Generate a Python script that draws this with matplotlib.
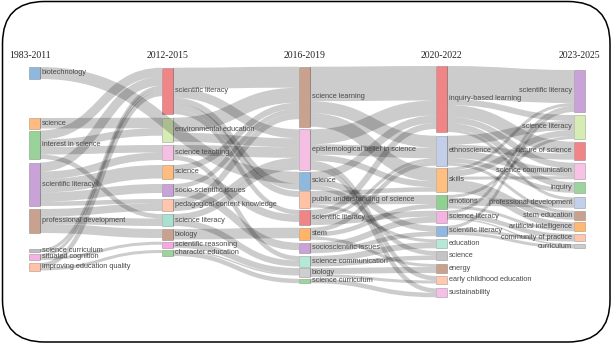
import matplotlib
matplotlib.use('Agg')
import matplotlib.pyplot as plt
from matplotlib.path import Path
from matplotlib.patches import PathPatch, Rectangle, FancyBboxPatch

# keyword clusters per period
periods = ['1983-2011', '2012-2015', '2016-2019', '2020-2022', '2023-2025']

col0 = ['biotechnology', 'science', 'interest in science', 'scientific literacy',
        'professional development', 'science curriculum', 'situated cognition',
        'improving education quality']
col1 = ['scientific literacy', 'environmental education', 'science teaching', 'science',
        'socio-scientific issues', 'pedagogical content knowledge', 'science literacy',
        'biology', 'scientific reasoning', 'character education']
col2 = ['science learning', 'epistemological belief in science', 'science',
        'public understanding of science', 'scientific literacy', 'stem',
        'socioscientific issues', 'science communication', 'biology', 'science curriculum']
col3 = ['inquiry-based learning', 'ethnoscience', 'skills', 'emotions', 'science literacy',
        'scientific literacy', 'education', 'science', 'energy',
        'early childhood education', 'sustainability']
col4 = ['scientific literacy', 'science literacy', 'nature of science', 'science communication',
        'inquiry', 'professional development', 'stem education', 'artificial intelligence',
        'community of practice', 'curriculum']
columns = [col0, col1, col2, col3, col4]

# flows between periods: (src period, src keyword, tgt period, tgt keyword, weight)
links = [
    (0, 'biotechnology', 2, 'science', 8),
    (0, 'science', 1, 'environmental education', 7),
    (0, 'interest in science', 1, 'scientific literacy', 6),
    (0, 'interest in science', 1, 'environmental education', 5),
    (0, 'interest in science', 1, 'science teaching', 5),
    (0, 'interest in science', 1, 'science literacy', 3),
    (0, 'scientific literacy', 1, 'scientific literacy', 6),
    (0, 'scientific literacy', 1, 'science teaching', 5),
    (0, 'scientific literacy', 1, 'science', 9),
    (0, 'scientific literacy', 1, 'socio-scientific issues', 6),
    (0, 'scientific literacy', 1, 'pedagogical content knowledge', 3),
    (0, 'professional development', 1, 'pedagogical content knowledge', 5),
    (0, 'professional development', 1, 'science literacy', 5),
    (0, 'professional development', 1, 'biology', 6),
    (0, 'science curriculum', 1, 'scientific literacy', 2),
    (0, 'situated cognition', 1, 'scientific literacy', 2),
    (0, 'situated cognition', 1, 'scientific reasoning', 2),
    (0, 'improving education quality', 1, 'scientific literacy', 3),
    (0, 'improving education quality', 1, 'character education', 2),

    (1, 'scientific literacy', 2, 'science learning', 14),
    (1, 'scientific literacy', 2, 'epistemological belief in science', 6),
    (1, 'scientific literacy', 2, 'science', 4),
    (1, 'scientific literacy', 2, 'public understanding of science', 4),
    (1, 'scientific literacy', 2, 'scientific literacy', 3),
    (1, 'environmental education', 2, 'science learning', 10),
    (1, 'environmental education', 2, 'epistemological belief in science', 6),
    (1, 'science teaching', 2, 'epistemological belief in science', 7),
    (1, 'science teaching', 2, 'science communication', 3),
    (1, 'science', 2, 'science learning', 4),
    (1, 'science', 2, 'scientific literacy', 5),
    (1, 'socio-scientific issues', 2, 'socioscientific issues', 5),
    (1, 'socio-scientific issues', 2, 'science learning', 3),
    (1, 'pedagogical content knowledge', 2, 'science learning', 4),
    (1, 'pedagogical content knowledge', 2, 'epistemological belief in science', 4),
    (1, 'science literacy', 2, 'epistemological belief in science', 4),
    (1, 'science literacy', 2, 'science communication', 4),
    (1, 'biology', 2, 'stem', 7),
    (1, 'scientific reasoning', 2, 'biology', 4),
    (1, 'character education', 2, 'science curriculum', 3),
    (1, 'character education', 2, 'biology', 1),

    (2, 'science learning', 3, 'inquiry-based learning', 23),
    (2, 'science learning', 3, 'ethnoscience', 8),
    (2, 'science learning', 3, 'skills', 9),
    (2, 'epistemological belief in science', 3, 'inquiry-based learning', 10),
    (2, 'epistemological belief in science', 3, 'ethnoscience', 7),
    (2, 'epistemological belief in science', 3, 'skills', 4),
    (2, 'epistemological belief in science', 3, 'early childhood education', 3),
    (2, 'epistemological belief in science', 3, 'sustainability', 3),
    (2, 'science', 3, 'inquiry-based learning', 5),
    (2, 'science', 3, 'scientific literacy', 4),
    (2, 'science', 3, 'science', 3),
    (2, 'public understanding of science', 3, 'emotions', 6),
    (2, 'public understanding of science', 3, 'skills', 3),
    (2, 'public understanding of science', 3, 'education', 2),
    (2, 'scientific literacy', 3, 'inquiry-based learning', 4),
    (2, 'scientific literacy', 3, 'science literacy', 4),
    (2, 'scientific literacy', 3, 'ethnoscience', 2),
    (2, 'stem', 3, 'ethnoscience', 3),
    (2, 'stem', 3, 'emotions', 3),
    (2, 'stem', 3, 'energy', 2),
    (2, 'socioscientific issues', 3, 'science literacy', 4),
    (2, 'socioscientific issues', 3, 'scientific literacy', 3),
    (2, 'science communication', 3, 'education', 4),
    (2, 'science communication', 3, 'science', 3),
    (2, 'biology', 3, 'energy', 4),
    (2, 'biology', 3, 'early childhood education', 2),
    (2, 'science curriculum', 3, 'sustainability', 3),

    (3, 'inquiry-based learning', 4, 'scientific literacy', 22),
    (3, 'inquiry-based learning', 4, 'nature of science', 8),
    (3, 'inquiry-based learning', 4, 'science literacy', 4),
    (3, 'inquiry-based learning', 4, 'science communication', 4),
    (3, 'inquiry-based learning', 4, 'inquiry', 4),
    (3, 'inquiry-based learning', 4, 'professional development', 2),
    (3, 'ethnoscience', 4, 'science literacy', 6),
    (3, 'ethnoscience', 4, 'nature of science', 4),
    (3, 'ethnoscience', 4, 'science communication', 5),
    (3, 'ethnoscience', 4, 'inquiry', 3),
    (3, 'ethnoscience', 4, 'stem education', 2),
    (3, 'skills', 4, 'scientific literacy', 2),
    (3, 'skills', 4, 'science literacy', 4),
    (3, 'skills', 4, 'science communication', 2),
    (3, 'skills', 4, 'stem education', 4),
    (3, 'skills', 4, 'artificial intelligence', 4),
    (3, 'emotions', 4, 'professional development', 5),
    (3, 'emotions', 4, 'science literacy', 2),
    (3, 'emotions', 4, 'artificial intelligence', 2),
    (3, 'science literacy', 4, 'scientific literacy', 2),
    (3, 'science literacy', 4, 'community of practice', 3),
    (3, 'science literacy', 4, 'curriculum', 1),
    (3, 'scientific literacy', 4, 'scientific literacy', 2),
    (3, 'scientific literacy', 4, 'community of practice', 2),
    (3, 'scientific literacy', 4, 'curriculum', 2),
]

node_colors = [
    ['#8fb8de', '#ffbb80', '#99d39a', '#c9a3d8', '#c9a28f', '#bdbdbd', '#f4b3e1', '#ffc2a8'],
    ['#f08587', '#d6ecb4', '#f5bfe3', '#ffbb80', '#c9a3d8', '#ffc5ad', '#a9e0cf', '#c9a28f',
     '#f5a8e2', '#9dd49d'],
    ['#c9a28f', '#f5bfe3', '#8fb8de', '#ffc2a4', '#f08587', '#ffb46a', '#c9a3d8', '#b5e8d6',
     '#cfcfcf', '#9dd49d'],
    ['#f08587', '#c3cfe9', '#ffbf80', '#90d090', '#f5b3e1', '#90b8e0', '#b5e8d6', '#c4c4c4',
     '#c9a28f', '#ffc8b0', '#f5c0e8'],
    ['#c9a3d8', '#d6ecb4', '#f08587', '#f8c2e6', '#9dd49d', '#c3d0ea', '#c9a28f', '#ffb870',
     '#ffc5ad', '#cccccc'],
]

# layout (pixels)
NODE_X = [29, 162, 299, 436, 574]
NODE_W = 11
KY = 1.5
GAPS = [
    [67, 39, 2, 3.5, 3, 16, 2, 3],
    [67.7, 3.5, 3.3, 5, 5.5, 3, 3, 3, 2.2, 2.3],
    [66.7, 2.6, 1.9, 1.3, 2.5, 2.7, 3, 2.8, 1.5, 1.7],
    [66, 3.7, 2, 3.3, 2.2, 3, 3.1, 2.7, 4, 3, 4.8],
    [70, 3, 2.7, 3, 3.1, 4.5, 2.9, 2.6, 2.7, 2.5],
]

# node values = max(inflow, outflow)
inflow, outflow = {}, {}
for sc, sn, tc, tn, v in links:
    outflow[(sc, sn)] = outflow.get((sc, sn), 0) + v
    inflow[(tc, tn)] = inflow.get((tc, tn), 0) + v

node_y0 = {}
node_h = {}
for c, names in enumerate(columns):
    y = 0
    for i, name in enumerate(names):
        y += GAPS[c][i]
        h = max(inflow.get((c, name), 0), outflow.get((c, name), 0)) * KY
        node_y0[(c, name)] = y
        node_h[(c, name)] = h
        y += h

fig = plt.figure(figsize=(6.12, 3.44), dpi=100)
ax = fig.add_axes([0, 0, 1, 1])
ax.set_xlim(0, 612)
ax.set_ylim(344, 0)
ax.axis('off')

# nodes
for c, names in enumerate(columns):
    for i, name in enumerate(names):
        ax.add_patch(Rectangle((NODE_X[c], node_y0[(c, name)]), NODE_W, node_h[(c, name)],
                               facecolor=node_colors[c][i], edgecolor='#00000055', lw=0.4, zorder=1))

# link offsets, stacked like d3-sankey
src_off = {}
tgt_off = {}
for key in node_y0:
    c, name = key
    outs = [l for l in links if (l[0], l[1]) == key]
    outs.sort(key=lambda l: node_y0[(l[2], l[3])])
    y = node_y0[key]
    for l in outs:
        src_off[id(l)] = y + l[4] * KY / 2
        y += l[4] * KY
    ins = [l for l in links if (l[2], l[3]) == key]
    ins.sort(key=lambda l: node_y0[(l[0], l[1])])
    y = node_y0[key]
    for l in ins:
        tgt_off[id(l)] = y + l[4] * KY / 2
        y += l[4] * KY

for l in links:
    x0 = NODE_X[l[0]] + NODE_W
    x1 = NODE_X[l[2]]
    y0 = src_off[id(l)]
    y1 = tgt_off[id(l)]
    xm = (x0 + x1) / 2
    p = Path([(x0, y0), (xm, y0), (xm, y1), (x1, y1)],
             [Path.MOVETO, Path.CURVE4, Path.CURVE4, Path.CURVE4])
    ax.add_patch(PathPatch(p, fill=False, edgecolor='black', alpha=0.2,
                           lw=l[4] * KY * 0.72, capstyle='butt', zorder=2))

# labels
lab_font = ['Liberation Sans Narrow', 'Liberation Sans', 'DejaVu Sans']
for c, names in enumerate(columns):
    for name in names:
        yc = node_y0[(c, name)] + node_h[(c, name)] / 2
        if c < 4:
            ax.text(NODE_X[c] + NODE_W + 2, yc, name, ha='left', va='center',
                    fontsize=5.3, color='#4a4a4a', family=lab_font, zorder=3)
        else:
            ax.text(NODE_X[c] - 2, yc, name, ha='right', va='center',
                    fontsize=5.3, color='#4a4a4a', family=lab_font, zorder=3)

for c, period in enumerate(periods):
    hx = NODE_X[c] + NODE_W / 2 - (5 if c == 0 else 0)
    ax.text(hx, 55, period, ha='center', va='center', fontsize=7,
            family='Liberation Serif', color='#222222')

# rounded frame
ax.add_patch(FancyBboxPatch((2.5, 1.5), 607.5, 340.5, boxstyle='round,pad=0,rounding_size=42',
                            fill=False, edgecolor='black', lw=1.1, zorder=4))

fig.savefig('out.png', dpi=100)
